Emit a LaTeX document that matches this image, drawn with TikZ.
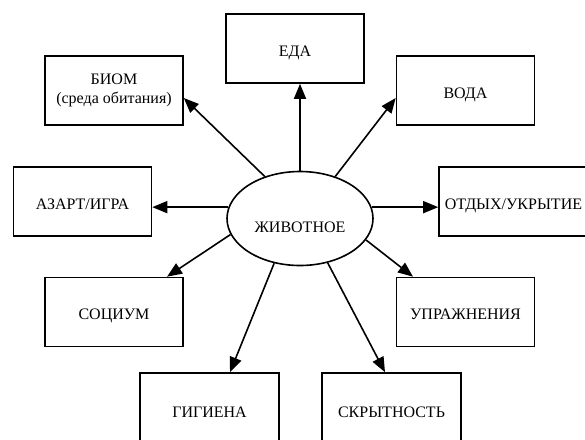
\documentclass[tikz,border=0pt]{standalone}
\usepackage{fontspec}
\setmainfont{Liberation Serif}
\usetikzlibrary{arrows.meta,shapes.geometric}
\begin{document}
\begin{tikzpicture}[x=1pt,y=-1pt,
  box/.style={draw,line width=1.6pt,rectangle,minimum width=138pt,minimum height=69pt,inner sep=0pt,align=center,font=\fontsize{16}{19}\selectfont},
  capline/.style={text height=16pt,text depth=0.4pt},
  oval/.style={draw,line width=1.6pt,ellipse,minimum width=146pt,minimum height=94pt,inner sep=0pt,text height=29pt,text depth=0.4pt,font=\fontsize{16}{19}\selectfont},
  link/.style={line width=1.6pt,-{Triangle[length=15pt,width=12pt]}}]
\useasboundingbox (0,0) rectangle (585,439);
\clip (0,0) rectangle (585,439);
\fill[white] (0,0) rectangle (585,439);
\node[oval] (e) at (300,218.5) {ЖИВОТНОЕ};
\node[box,capline] (eda) at (295,48.5) {ЕДА};
\node[box] (biom) at (114,90.5) {БИОМ\\(среда обитания)};
\node[box,capline] (voda) at (465.5,90.5) {ВОДА};
\node[box,capline] (azart) at (82.5,201.5) {АЗАРТ/ИГРА};
\node[box,capline,minimum width=149pt] (otdyh) at (513.5,201.5) {ОТДЫХ/УКРЫТИЕ};
\node[box,capline] (socium) at (114,312) {СОЦИУМ};
\node[box,capline] (upr) at (465.5,312) {УПРАЖНЕНИЯ};
\node[box,capline,minimum width=139pt,minimum height=74pt] (gig) at (209.5,410) {ГИГИЕНА};
\node[box,capline,minimum width=139pt,minimum height=74pt] (skr) at (391.5,410) {СКРЫТНОСТЬ};
\draw[link] (e.90) -- (e.90 |- eda.south);
\draw[link] (e.130) -- ([yshift=-7.5pt]biom.east);
\draw[link] (e.50) -- ([yshift=-7.5pt]voda.west);
\draw[link] (e.171) -- (azart.east |- e.171);
\draw[link] (e.9) -- (otdyh.west |- e.9);
\draw[link] (e.193) -- ([xshift=53pt]socium.north);
\draw[link] (e.240) -- ([xshift=20.5pt]gig.north);
\draw[link] (e.302) -- ([xshift=-6.5pt]skr.north);
\draw[link] (e.342) -- ([xshift=-52.5pt]upr.north);
\end{tikzpicture}
\end{document}
